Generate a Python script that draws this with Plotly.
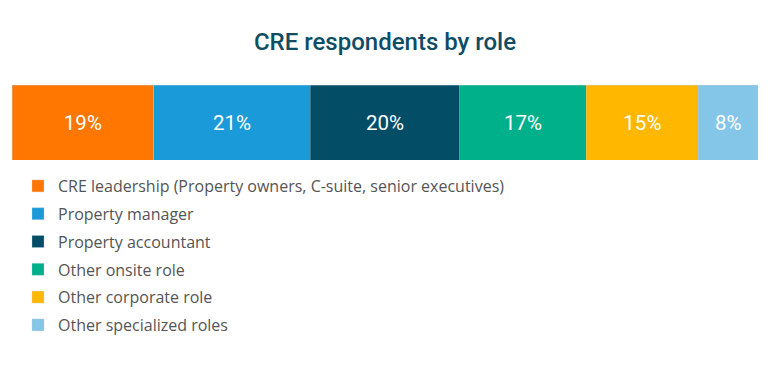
import plotly.graph_objects as go

roles = [
    "CRE leadership (Property owners, C-suite, senior executives)",
    "Property manager",
    "Property accountant",
    "Other onsite role",
    "Other corporate role",
    "Other specialized roles",
]
shares = [19, 21, 20, 17, 15, 8]
colors = ["#FF7700", "#1A9AD9", "#034E66", "#00B08A", "#FFB700", "#84C6E8"]

W, H = 754, 374  # page body has an 8px margin

fig = go.Figure()
for i, (r, v, c) in enumerate(zip(roles, shares, colors)):
    fig.add_trace(go.Bar(
        x=[v], y=["all"], orientation="h", name=r,
        marker=dict(color=c, line=dict(color="rgba(200,210,220,0.6)", width=0.5)),
        text=[f"{v}%"], textposition="inside", insidetextanchor="middle",
        textfont=dict(family="Roboto", size=20.5, color="white"),
        legendgroup=f"g{i}", hoverinfo="skip", width=1,
    ))

fig.update_layout(
    width=W, height=H,
    barmode="stack",
    paper_bgcolor="white", plot_bgcolor="white",
    margin=dict(l=4, r=4, t=0, b=0, autoexpand=False),
    title=dict(text="CRE respondents by role", x=0.5, xanchor="center",
               y=1 - 34 / H, yanchor="middle",
               font=dict(family="Roboto", size=24, color="#0E4D64", weight=500)),
    xaxis=dict(range=[0, 100], visible=False, fixedrange=True),
    yaxis=dict(domain=[1 - 152 / H, 1 - 77 / H], range=[-0.5, 0.5],
               visible=False, fixedrange=True),
    showlegend=True,
    legend=dict(orientation="v", xref="container", x=10 / W, xanchor="left",
                yref="container", y=1 - 161 / H, yanchor="top",
                traceorder="grouped", tracegroupgap=4,
                itemwidth=30,
                font=dict(family="Open Sans", size=16, color="#555555"),
                bgcolor="rgba(0,0,0,0)"),
    uniformtext=dict(mode="show", minsize=10),
)

fig.write_html("out.html")
